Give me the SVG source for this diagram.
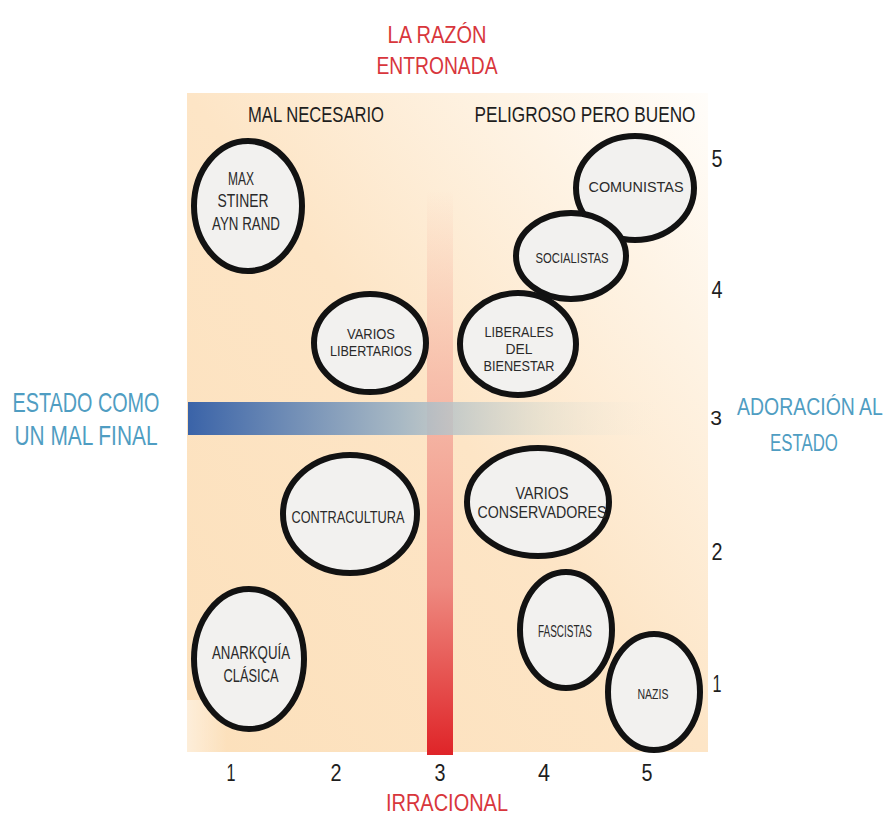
<svg xmlns="http://www.w3.org/2000/svg" width="894" height="816" viewBox="0 0 894 816">
<defs>
<linearGradient id="bg" x1="0" y1="1" x2="1" y2="0">
<stop offset="0" stop-color="#fce0bb"/>
<stop offset="0.5" stop-color="#fde5c6"/>
<stop offset="0.8" stop-color="#fef3e4"/>
<stop offset="1" stop-color="#fffdfa"/>
</linearGradient>
<linearGradient id="blue" x1="0" y1="0" x2="1" y2="0">
<stop offset="0" stop-color="#3a63a8"/>
<stop offset="0.45" stop-color="#a3b6c4" stop-opacity="0.95"/>
<stop offset="0.75" stop-color="#dcdccf" stop-opacity="0.6"/>
<stop offset="1" stop-color="#f6ecdc" stop-opacity="0"/>
</linearGradient>
<linearGradient id="red" x1="0" y1="0" x2="0" y2="1">
<stop offset="0" stop-color="#f7b8a4" stop-opacity="0"/>
<stop offset="0.35" stop-color="#f5b3a3" stop-opacity="0.8"/>
<stop offset="0.7" stop-color="#ee8a80"/>
<stop offset="1" stop-color="#df2428"/>
</linearGradient>
<linearGradient id="fadeL" x1="0" y1="0" x2="1" y2="0">
<stop offset="0" stop-color="#ffffff" stop-opacity="0.9"/>
<stop offset="1" stop-color="#ffffff" stop-opacity="0"/>
</linearGradient>
<style>
text{font-family:"Liberation Sans","Open Sans",sans-serif;text-anchor:middle}
.red{fill:#d8363c;font-size:24px}
.blu{fill:#4f9dc2}
.hd{fill:#1e1e1e;font-size:22px}
.num{fill:#1e1e1e;font-size:23px}
.node ellipse{fill:#f2f1ef;stroke:#121212;stroke-width:6}
.node text{fill:#2a2a2a;font-size:14px}
</style>
</defs>

<rect x="0" y="0" width="894" height="816" fill="#ffffff"/>
<rect x="187" y="93" width="521" height="659" fill="url(#bg)"/>
<rect x="187" y="700" width="40" height="52" fill="url(#fadeL)" opacity="0.5"/>
<rect x="427" y="190" width="26" height="565" fill="url(#red)"/>
<rect x="188" y="402" width="470" height="33" fill="url(#blue)"/>

<text class="red" x="437" y="43" textLength="99" lengthAdjust="spacingAndGlyphs">LA RAZÓN</text>
<text class="red" x="437" y="74" textLength="121" lengthAdjust="spacingAndGlyphs">ENTRONADA</text>
<text class="red" x="447" y="811" textLength="122" lengthAdjust="spacingAndGlyphs">IRRACIONAL</text>
<text class="blu" x="86" y="412" style="font-size:28px" textLength="147" lengthAdjust="spacingAndGlyphs">ESTADO COMO</text>
<text class="blu" x="86" y="445" style="font-size:28px" textLength="143" lengthAdjust="spacingAndGlyphs">UN MAL FINAL</text>
<text class="blu" transform="translate(810,415) scale(0.81,1)" x="0" y="0" style="font-size:24px">ADORACIÓN AL</text>
<text class="blu" transform="translate(804,451) scale(0.7,1)" x="0" y="0" style="font-size:24px">ESTADO</text>
<text class="hd" x="316" y="122" textLength="136" lengthAdjust="spacingAndGlyphs">MAL NECESARIO</text>
<text class="hd" x="585" y="122" textLength="221" lengthAdjust="spacingAndGlyphs">PELIGROSO PERO BUENO</text>

<g id="axis-numbers">
<text class="num" x="717" y="167" textLength="11" lengthAdjust="spacingAndGlyphs">5</text>
<text class="num" x="717" y="298" textLength="11" lengthAdjust="spacingAndGlyphs">4</text>
<text class="num" x="716" y="425" style="font-size:21px">3</text>
<text class="num" x="717" y="560" textLength="11" lengthAdjust="spacingAndGlyphs">2</text>
<text class="num" x="717" y="692" textLength="9" lengthAdjust="spacingAndGlyphs">1</text>
<text class="num" x="231" y="781" textLength="9" lengthAdjust="spacingAndGlyphs">1</text>
<text class="num" x="336" y="781" textLength="11" lengthAdjust="spacingAndGlyphs">2</text>
<text class="num" x="440" y="781" textLength="11" lengthAdjust="spacingAndGlyphs">3</text>
<text class="num" x="544" y="781" textLength="12" lengthAdjust="spacingAndGlyphs">4</text>
<text class="num" x="647" y="781" textLength="11" lengthAdjust="spacingAndGlyphs">5</text>
</g>

<g id="max-stiner" class="node">
<ellipse cx="248" cy="206" rx="54" ry="65"/>
<text x="241" y="185" style="font-size:19px" textLength="26" lengthAdjust="spacingAndGlyphs">MAX</text>
<text x="243" y="207" style="font-size:19px" textLength="51" lengthAdjust="spacingAndGlyphs">STINER</text>
<text x="246" y="230" style="font-size:19px" textLength="68" lengthAdjust="spacingAndGlyphs">AYN RAND</text>
</g>
<g id="comunistas" class="node">
<ellipse cx="635" cy="188" rx="59" ry="52"/>
<text x="636" y="192" style="font-size:15px" textLength="95" lengthAdjust="spacingAndGlyphs">COMUNISTAS</text>
</g>
<g id="socialistas" class="node">
<ellipse cx="571" cy="256" rx="55" ry="43"/>
<text x="572" y="263" textLength="73" lengthAdjust="spacingAndGlyphs">SOCIALISTAS</text>
</g>
<g id="varios-libertarios" class="node">
<ellipse cx="370" cy="343" rx="56" ry="49"/>
<text x="371" y="339" textLength="48" lengthAdjust="spacingAndGlyphs">VARIOS</text>
<text x="371" y="356" textLength="82" lengthAdjust="spacingAndGlyphs">LIBERTARIOS</text>
</g>
<g id="liberales" class="node">
<ellipse cx="518" cy="344" rx="58" ry="51"/>
<text x="519" y="337" style="font-size:15px" textLength="69" lengthAdjust="spacingAndGlyphs">LIBERALES</text>
<text x="519" y="354" style="font-size:15px" textLength="27" lengthAdjust="spacingAndGlyphs">DEL</text>
<text x="519" y="371" style="font-size:15px" textLength="71" lengthAdjust="spacingAndGlyphs">BIENESTAR</text>
</g>
<g id="contracultura" class="node">
<ellipse cx="350" cy="514" rx="67" ry="59"/>
<text x="348" y="523" style="font-size:16px" textLength="113" lengthAdjust="spacingAndGlyphs">CONTRACULTURA</text>
</g>
<g id="varios-conservadores" class="node">
<ellipse cx="538" cy="502" rx="71" ry="54"/>
<text x="542" y="499" style="font-size:17px" textLength="53" lengthAdjust="spacingAndGlyphs">VARIOS</text>
<text x="542" y="518" style="font-size:17px" textLength="129" lengthAdjust="spacingAndGlyphs">CONSERVADORES</text>
</g>
<g id="fascistas" class="node">
<ellipse cx="566" cy="630" rx="46" ry="58"/>
<text x="565" y="637" style="font-size:16px" textLength="54" lengthAdjust="spacingAndGlyphs">FASCISTAS</text>
</g>
<g id="nazis" class="node">
<ellipse cx="654" cy="692" rx="46" ry="58"/>
<text x="653" y="699" style="font-size:15px" textLength="31" lengthAdjust="spacingAndGlyphs">NAZIS</text>
</g>
<g id="anarquia" class="node">
<ellipse cx="249" cy="659" rx="55" ry="70"/>
<text x="251" y="659" style="font-size:19px" textLength="78" lengthAdjust="spacingAndGlyphs">ANARKQUÍA</text>
<text x="251" y="682" style="font-size:19px" textLength="55" lengthAdjust="spacingAndGlyphs">CLÁSICA</text>
</g>
</svg>
